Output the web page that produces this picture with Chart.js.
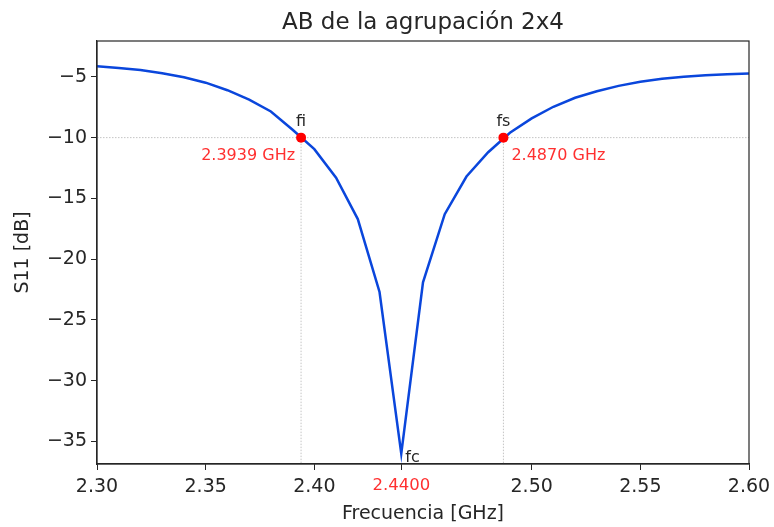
<!DOCTYPE html>
<html>
<head>
<meta charset="utf-8">
<title>AB de la agrupación 2x4</title>
<script src="https://cdn.jsdelivr.net/npm/chart.js@4/dist/chart.umd.min.js"></script>
<style>
    html, body { margin: 0; padding: 0; background: #fff; }
    #s11Chart { display: block; }
</style>
</head>
<body>
<canvas id="s11Chart" width="774" height="527"></canvas>
<script>
(function() {
    'use strict';

    // barrido de frecuencia [GHz] y S11 medido [dB]
    var freqs = [2.30, 2.31, 2.32, 2.33, 2.34, 2.35, 2.36, 2.37, 2.38, 2.39,
                 2.40, 2.41, 2.42, 2.43, 2.44, 2.45, 2.46, 2.47, 2.48, 2.49,
                 2.50, 2.51, 2.52, 2.53, 2.54, 2.55, 2.56, 2.57, 2.58, 2.59, 2.60];
    var s11 = [-4.12, -4.27, -4.44, -4.70, -5.04, -5.48, -6.10, -6.88, -7.85, -9.35,
               -10.95, -13.30, -16.70, -22.70, -36.00, -21.90, -16.30, -13.20, -11.20, -9.60,
               -8.42, -7.46, -6.72, -6.18, -5.74, -5.41, -5.16, -5.00, -4.86, -4.78, -4.72];

    // frecuencias inferior / superior a -10 dB y central
    var edgeNames = ['fi', 'fs'];
    var edgeFreqs = [2.3939, 2.4870];
    var edgeLevel = -10;
    var centreName = 'fc';
    var centreFreq = 2.44;

    var xTicks = [2.30, 2.35, 2.40, 2.44, 2.50, 2.55, 2.60];
    var yTicks = [-35, -30, -25, -20, -15, -10, -5];

    var FONT = '"DejaVu Sans", sans-serif';
    var INK = '#262626';
    var RED = '#ff3030';
    var GUIDE = '#c4c4c4';

    var centreLevel = s11[freqs.indexOf(centreFreq)];

    var curve = freqs.map(function(f, i) { return {x: f, y: s11[i]}; });
    var edges = edgeFreqs.map(function(f) { return {x: f, y: edgeLevel}; });

    function fmtMinus(v) {
        return (v < 0 ? '\u2212' : '') + Math.abs(v);
    }

    var guidesPlugin = {
        id: 'guides',
        beforeDatasetsDraw: function(chart) {
            var ctx = chart.ctx;
            var area = chart.chartArea;
            var xs = chart.scales.x;
            var ys = chart.scales.y;
            var y10 = ys.getPixelForValue(edgeLevel);
            ctx.save();
            ctx.strokeStyle = GUIDE;
            ctx.lineWidth = 1;
            ctx.setLineDash([1.5, 1.5]);
            ctx.beginPath();
            ctx.moveTo(area.left, y10);
            ctx.lineTo(area.right, y10);
            edgeFreqs.forEach(function(f) {
                var px = xs.getPixelForValue(f);
                ctx.moveTo(px, y10);
                ctx.lineTo(px, area.bottom);
            });
            ctx.stroke();
            ctx.restore();
        },
        afterDraw: function(chart) {
            var ctx = chart.ctx;
            var area = chart.chartArea;
            var xs = chart.scales.x;
            var ys = chart.scales.y;

            ctx.save();
            // marco completo de los ejes
            ctx.strokeStyle = INK;
            ctx.lineWidth = 1.2;
            ctx.strokeRect(area.left, area.top, area.right - area.left, area.bottom - area.top);

            // titulo
            ctx.fillStyle = INK;
            ctx.font = '23px ' + FONT;
            ctx.textAlign = 'center';
            ctx.textBaseline = 'alphabetic';
            ctx.fillText('AB de la agrupación 2x4', (area.left + area.right) / 2, 28.5);

            // etiquetas fi / fs con su frecuencia
            ctx.font = '16px ' + FONT;
            edgeFreqs.forEach(function(f, i) {
                var px = xs.getPixelForValue(f);
                var py = ys.getPixelForValue(edgeLevel);
                ctx.fillStyle = INK;
                ctx.textAlign = 'center';
                ctx.fillText(edgeNames[i], px, py - 12);
                ctx.fillStyle = RED;
                ctx.textAlign = i === 0 ? 'right' : 'left';
                ctx.fillText(f.toFixed(4) + ' GHz', i === 0 ? px - 6 : px + 8, py + 22.5);
            });

            // fc junto al minimo
            ctx.fillStyle = INK;
            ctx.textAlign = 'left';
            ctx.fillText(centreName, xs.getPixelForValue(centreFreq) + 4,
                ys.getPixelForValue(centreLevel) + 8.5);
            ctx.restore();
        }
    };

    var CHART = document.getElementById('s11Chart');

    var s11Chart = new Chart(CHART, {
        type: 'line',
        data: {
            datasets: [{
                type: 'scatter',
                data: edges,
                showLine: false,
                pointRadius: 5,
                pointBackgroundColor: '#ff0000',
                pointBorderWidth: 0,
                order: 0
            }, {
                data: curve,
                borderColor: '#0a46dc',
                borderWidth: 2.5,
                tension: 0,
                fill: false,
                pointRadius: 0,
                order: 1
            }]
        },
        options: {
            responsive: false,
            animation: false,
            devicePixelRatio: 1,
            layout: { padding: { top: 41, right: 25, left: 0, bottom: 0 } },
            plugins: {
                legend: { display: false },
                tooltip: { enabled: false },
                title: { display: false }
            },
            scales: {
                x: {
                    type: 'linear',
                    min: 2.30,
                    max: 2.60,
                    afterFit: function(scale) {
                        scale.height = 63;
                        scale.paddingLeft = 0;
                        scale.paddingRight = 0;
                    },
                    afterBuildTicks: function(scale) {
                        scale.ticks = xTicks.map(function(v) { return {value: v}; });
                    },
                    grid: {
                        drawOnChartArea: false,
                        drawTicks: true,
                        tickLength: 6,
                        tickColor: INK
                    },
                    border: { display: true, color: INK, width: 1.2 },
                    ticks: {
                        autoSkip: false,
                        maxRotation: 0,
                        padding: 6,
                        color: function(c) { return c.tick && c.tick.value === centreFreq ? RED : INK; },
                        font: function(c) {
                            var size = c.tick && c.tick.value === centreFreq ? 16.5 : 19;
                            return { family: FONT, size: size };
                        },
                        callback: function(v) {
                            return v === centreFreq ? v.toFixed(4) : v.toFixed(2);
                        }
                    },
                    title: {
                        display: true,
                        text: 'Frecuencia [GHz]',
                        color: INK,
                        font: { family: FONT, size: 19 },
                        padding: { top: 0, bottom: 2 }
                    }
                },
                y: {
                    min: -36.85,
                    max: -2.05,
                    afterFit: function(scale) { scale.width = 97; },
                    afterBuildTicks: function(scale) {
                        scale.ticks = yTicks.map(function(v) { return {value: v}; });
                    },
                    grid: {
                        drawOnChartArea: false,
                        drawTicks: true,
                        tickLength: 6,
                        tickColor: INK
                    },
                    border: { display: true, color: INK, width: 1.2 },
                    ticks: {
                        autoSkip: false,
                        padding: 4,
                        color: INK,
                        font: { family: FONT, size: 19 },
                        callback: function(v) { return fmtMinus(v); }
                    },
                    title: {
                        display: true,
                        text: 'S11 [dB]',
                        color: INK,
                        font: { family: FONT, size: 19 },
                        padding: { top: 12, bottom: 0 }
                    }
                }
            }
        },
        plugins: [guidesPlugin]
    });
}());
</script>
</body>
</html>
